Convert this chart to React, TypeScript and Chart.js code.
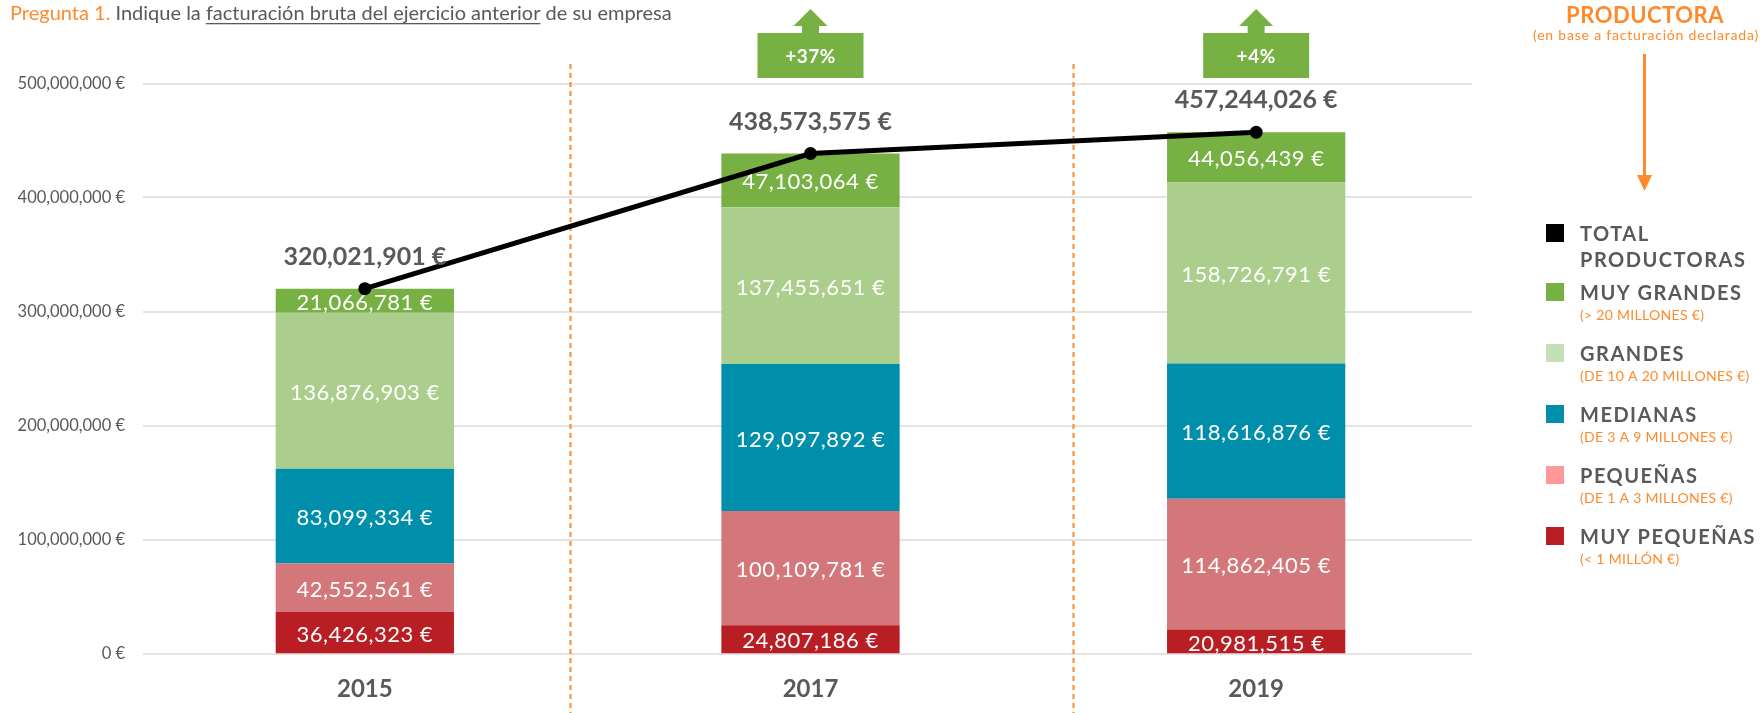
import React, { useEffect, useRef } from 'react';
import { Chart, registerables } from 'chart.js';

Chart.register(...registerables);

// ---------- data ----------
const categories = ['2015', '2017', '2019'];
const muyPequenas = [36426323, 24807186, 20981515];
const pequenas = [42552561, 100109781, 114862405];
const medianas = [83099334, 129097892, 118616876];
const grandes = [136876903, 137455651, 158726791];
const muyGrandes = [21066781, 47103064, 44056439];
const totals = [320021901, 438573575, 457244026];
const growthLabels = ['', '+37%', '+4%'];
const dividerPositions = [0.46, 1.59];
const yMax = 500000000;
const yStep = 100000000;

const legendItems = [
  { label: 'TOTAL', label2: 'PRODUCTORAS', sub: '', color: '#000000' },
  { label: 'MUY GRANDES', label2: '', sub: '(> 20 MILLONES €)', color: '#77B043' },
  { label: 'GRANDES', label2: '', sub: '(DE 10 A 20 MILLONES €)', color: '#C5E0B4' },
  { label: 'MEDIANAS', label2: '', sub: '(DE 3 A 9 MILLONES €)', color: '#008FAA' },
  { label: 'PEQUEÑAS', label2: '', sub: '(DE 1 A 3 MILLONES €)', color: '#FF9999' },
  { label: 'MUY PEQUEÑAS', label2: '', sub: '(< 1 MILLÓN €)', color: '#B81E23' },
];

// ---------- styles ----------
const GRAY = '#595959';
const ORANGE = '#FF8A2B';
const GREEN = '#77B043';
const FONT = 'Lato';

const fmt = (n: number) => String(n).replace(/\B(?=(\d{3})+(?!\d))/g, ',') + ' €';

const setLS = (ctx: any, v: number) => {
  try { ctx.letterSpacing = `${v}px`; } catch (e) { /* ignore */ }
};

const decorPlugin = {
  id: 'decor',
  beforeDatasetsDraw(chart: any) {
    const { ctx, scales } = chart;
    const x = scales.x;
    const y = scales.y;
    ctx.save();
    ctx.strokeStyle = '#E3E3E3';
    ctx.lineWidth = 2;
    y.ticks.forEach((t: any) => {
      const py = Math.round(y.getPixelForValue(t.value));
      ctx.beginPath();
      ctx.moveTo(143, py);
      ctx.lineTo(1472, py);
      ctx.stroke();
    });
    ctx.strokeStyle = ORANGE;
    ctx.lineWidth = 2;
    ctx.setLineDash([5, 4]);
    dividerPositions.forEach((v) => {
      const px = Math.round(x.getPixelForValue(v)) + 0.5;
      ctx.beginPath();
      ctx.moveTo(px, 64);
      ctx.lineTo(px, 713);
      ctx.stroke();
    });
    ctx.restore();
  },
  beforeDatasetDraw(chart: any, args: any) {
    if (args.meta.type !== 'line') return;
    const { ctx } = chart;
    ctx.save();
    ctx.font = `22px ${FONT}`;
    setLS(ctx, 0.5);
    ctx.fillStyle = '#FFFFFF';
    ctx.textAlign = 'center';
    ctx.textBaseline = 'alphabetic';
    chart.data.datasets.forEach((ds: any, i: number) => {
      if (ds.type === 'line') return;
      const meta = chart.getDatasetMeta(i);
      meta.data.forEach((el: any, j: number) => {
        const p = el.getProps(['x', 'y', 'base'], true);
        ctx.fillText(fmt(ds.data[j]), p.x, (p.y + p.base) / 2 + 9);
      });
    });
    setLS(ctx, 0);
    ctx.restore();
  },
  afterDatasetsDraw(chart: any) {
    const { ctx, scales } = chart;
    const x = scales.x;
    ctx.save();
    const lineIdx = chart.data.datasets.findIndex((d: any) => d.type === 'line');
    const lineMeta = chart.getDatasetMeta(lineIdx);
    ctx.font = `bold 25px ${FONT}`;
    ctx.fillStyle = GRAY;
    ctx.textAlign = 'center';
    ctx.textBaseline = 'alphabetic';
    lineMeta.data.forEach((pt: any, j: number) => {
      ctx.fillText(fmt(totals[j]), pt.x, pt.y - 24);
    });
    growthLabels.forEach((g, j) => {
      if (!g) return;
      const cx = x.getPixelForValue(j);
      ctx.fillStyle = GREEN;
      ctx.fillRect(cx - 53, 33, 106, 45);
      ctx.beginPath();
      ctx.moveTo(cx - 8.5, 33);
      ctx.lineTo(cx - 8.5, 26);
      ctx.lineTo(cx - 17, 26);
      ctx.lineTo(cx, 9);
      ctx.lineTo(cx + 17, 26);
      ctx.lineTo(cx + 8.5, 26);
      ctx.lineTo(cx + 8.5, 33);
      ctx.closePath();
      ctx.fill();
      ctx.fillStyle = '#FFFFFF';
      ctx.font = `bold 19px ${FONT}`;
      setLS(ctx, 0.5);
      ctx.fillText(g, cx, 63);
      setLS(ctx, 0);
    });
    // title
    ctx.textAlign = 'left';
    ctx.font = `20px ${FONT}`;
    let tx = 10;
    const ty = 20;
    const parts = [
      { t: 'Pregunta 1.', c: ORANGE, u: false },
      { t: ' Indique la ', c: GRAY, u: false },
      { t: 'facturación bruta del ejercicio anterior', c: GRAY, u: true },
      { t: ' de su empresa', c: GRAY, u: false },
    ];
    parts.forEach((p) => {
      ctx.fillStyle = p.c;
      ctx.fillText(p.t, tx, ty);
      const w = ctx.measureText(p.t).width;
      if (p.u) ctx.fillRect(tx, ty + 3, w, 1.3);
      tx += w;
    });
    // header
    ctx.textAlign = 'center';
    ctx.fillStyle = ORANGE;
    ctx.font = `bold 22px ${FONT}`;
    setLS(ctx, 0.5);
    ctx.fillText('PRODUCTORA', 1645, 23);
    ctx.font = `14px ${FONT}`;
    setLS(ctx, 0.8);
    ctx.fillText('(en base a facturación declarada)', 1646, 40);
    setLS(ctx, 0);
    ctx.strokeStyle = ORANGE;
    ctx.lineWidth = 3;
    ctx.beginPath();
    ctx.moveTo(1644.5, 54);
    ctx.lineTo(1644.5, 178);
    ctx.stroke();
    ctx.beginPath();
    ctx.moveTo(1637, 175);
    ctx.lineTo(1652, 175);
    ctx.lineTo(1644.5, 191);
    ctx.closePath();
    ctx.fill();
    // legend
    const tops = [224, 283, 344, 405, 466, 527];
    ctx.textAlign = 'left';
    legendItems.forEach((it, i) => {
      const top = tops[i];
      ctx.fillStyle = it.color;
      ctx.fillRect(1546, top, 18, 18);
      ctx.fillStyle = GRAY;
      ctx.font = `bold 20px ${FONT}`;
      setLS(ctx, 1.5);
      ctx.fillText(it.label, 1580, top + 17);
      if (it.label2) ctx.fillText(it.label2, 1580, top + 43);
      if (it.sub) {
        ctx.fillStyle = ORANGE;
        ctx.font = `14px ${FONT}`;
        setLS(ctx, 0.3);
        ctx.fillText(it.sub, 1580, top + 37);
      }
      setLS(ctx, 0);
    });
    ctx.restore();
  },
};

export default function App() {
  const ref = useRef<HTMLCanvasElement | null>(null);
  useEffect(() => {
    if (!ref.current) return;
    const chart = new Chart(ref.current, {
      type: 'bar',
      data: {
        labels: categories,
        datasets: [
          { type: 'bar', label: 'MUY PEQUEÑAS', data: muyPequenas, backgroundColor: '#B81E23', order: 1 },
          { type: 'bar', label: 'PEQUEÑAS', data: pequenas, backgroundColor: '#D4777A', order: 1 },
          { type: 'bar', label: 'MEDIANAS', data: medianas, backgroundColor: '#008FAA', order: 1 },
          { type: 'bar', label: 'GRANDES', data: grandes, backgroundColor: '#ABCE8D', order: 1 },
          { type: 'bar', label: 'MUY GRANDES', data: muyGrandes, backgroundColor: '#77B043', order: 1 },
          {
            type: 'line',
            label: 'TOTAL PRODUCTORAS',
            data: totals,
            stack: 'total',
            borderColor: '#000000',
            backgroundColor: '#000000',
            borderWidth: 5,
            pointRadius: 6.5,
            pointBackgroundColor: '#000000',
            pointBorderWidth: 0,
            tension: 0,
            order: 0,
          } as any,
        ],
      },
      options: {
        responsive: false,
        animation: false,
        devicePixelRatio: 1,
        layout: { padding: { top: 83.5, right: 283, left: 0, bottom: 0 } },
        plugins: { legend: { display: false }, tooltip: { enabled: false } },
        datasets: { bar: { barPercentage: 0.4, categoryPercentage: 1 } },
        scales: {
          x: {
            stacked: true,
            offset: true,
            grid: { display: false },
            border: { display: false },
            ticks: { color: GRAY, font: { family: FONT, size: 24, weight: 'bold' }, padding: 13 },
            afterFit: (s: any) => { s.height = 59.5; },
          },
          y: {
            stacked: true,
            min: 0,
            max: yMax,
            grid: { display: false },
            border: { display: false },
            ticks: {
              stepSize: yStep,
              color: GRAY,
              font: { family: FONT, size: 16.5 },
              padding: 9,
              callback: (v: any) => fmt(Number(v)),
            },
            afterFit: (s: any) => { s.width = 142; },
          },
        },
      } as any,
      plugins: [decorPlugin],
    });
    return () => chart.destroy();
  }, []);
  return (
    <div style={{ position: 'fixed', left: 0, top: 0, width: 1762, height: 713, background: '#fff' }}>
      <canvas ref={ref} width={1762} height={713} style={{ display: 'block', width: 1762, height: 713 }} />
    </div>
  );
}
